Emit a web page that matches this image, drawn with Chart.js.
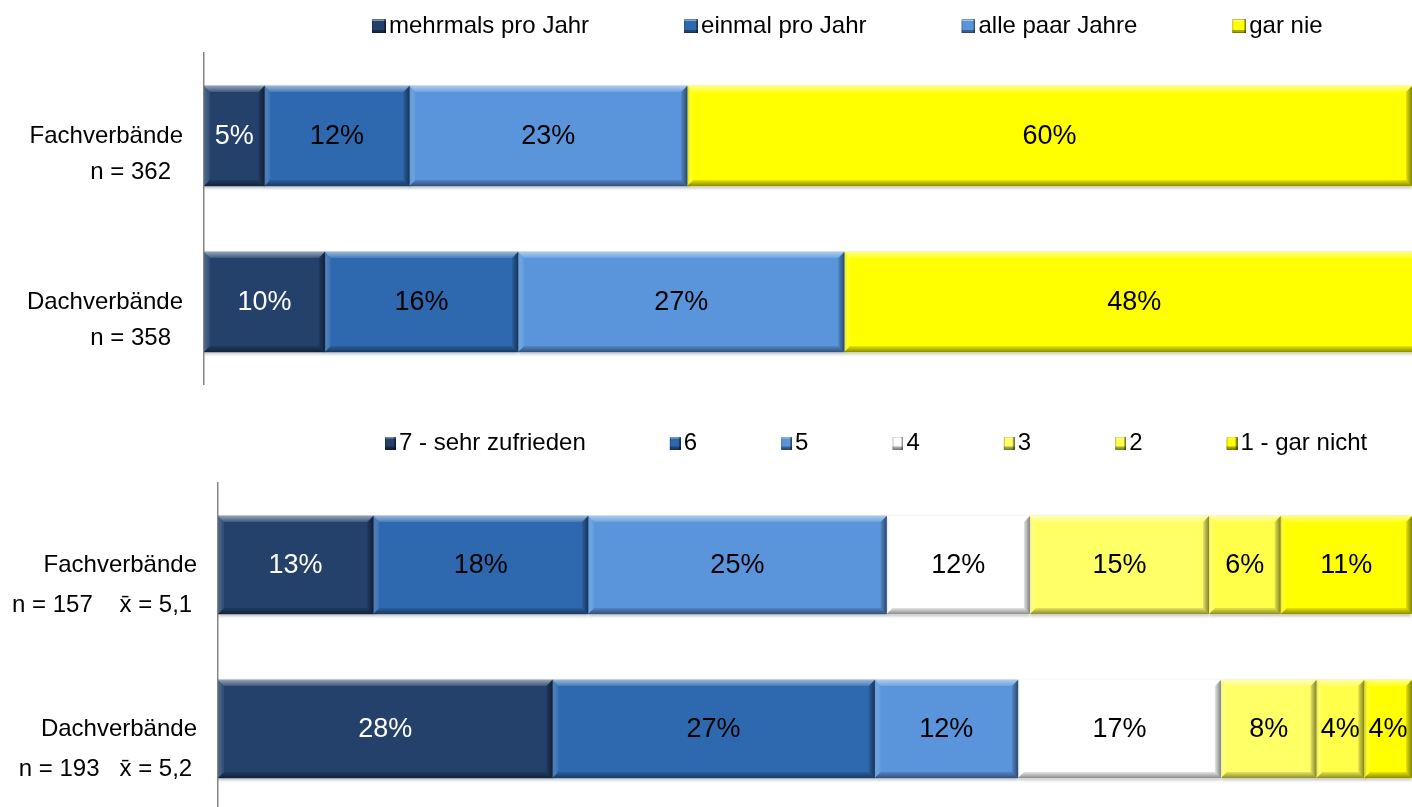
<!DOCTYPE html>
<html lang="de">
<head>
<meta charset="utf-8">
<title>Verbände – Kontakthäufigkeit und Zufriedenheit</title>
<script src="https://cdn.jsdelivr.net/npm/chart.js@4.4.1/dist/chart.umd.min.js"></script>
<style>
  html, body { margin: 0; padding: 0; background: #fff; overflow: hidden; }
  body { width: 1412px; height: 807px; position: relative; }
  .panel { position: absolute; left: 0; width: 1412px; }
  #freqPanel { top: 0; height: 385px; }
  #satPanel { top: 400px; height: 411px; }
  canvas { display: block; }
</style>
</head>
<body>
<div class="panel" id="freqPanel"><canvas id="freqChart" width="1412" height="385"></canvas></div>
<div class="panel" id="satPanel"><canvas id="satChart" width="1412" height="411"></canvas></div>
<script>
// ---- Kontakthäufigkeit (Anteile in %) ----
const freqGroups = ['Fachverbände', 'Dachverbände'];
const freqSampleSizes = ['n = 362', 'n = 358'];
const freqSeries = ['mehrmals pro Jahr', 'einmal pro Jahr', 'alle paar Jahre', 'gar nie'];
const freqMehrmals = [5, 10];
const freqEinmal = [12, 16];
const freqAllePaar = [23, 27];
const freqGarNie = [60, 48];

// ---- Zufriedenheit, Skala 1–7 (Anteile in %) ----
const satGroups = ['Fachverbände', 'Dachverbände'];
const satSampleSizes = ['n = 157', 'n = 193'];
const satMeans = ['5,1', '5,2'];
const satSeries = ['7 - sehr zufrieden', '6', '5', '4', '3', '2', '1 - gar nicht'];
const sat7 = [13, 28];
const sat6 = [18, 27];
const sat5 = [25, 12];
const sat4 = [12, 17];
const sat3 = [15, 8];
const sat2 = [6, 4];
const sat1 = [11, 4];

// ---- Farben ----
const freqColors = ['#23416B', '#2E69B0', '#5A95DB', '#FFFF00'];
const freqTextColors = ['#FFFFFF', '#000000', '#000000', '#000000'];
const satColors = ['#23416B', '#2E69B0', '#5A95DB', '#FFFFFF', '#FFFF66', '#FFFF4A', '#FFFF00'];
const satTextColors = ['#FFFFFF', '#000000', '#000000', '#000000', '#000000', '#000000', '#000000'];

Chart.defaults.font.family = "'Liberation Sans', Arial, Helvetica, sans-serif";
Chart.defaults.color = '#000';

// Small bevelled square used as legend symbol. The canvas is wider than the
// square so that the square sits right in front of the legend text.
function legendSwatch(color, slot, w, h, gap, halfFont) {
  const a = w + gap - halfFont;
  const iw = slot + 2 * w - 2 * a;
  const sx = slot + w - 2 * a;
  const c = document.createElement('canvas');
  c.width = iw; c.height = h;
  const g = c.getContext('2d');
  g.fillStyle = color;
  g.fillRect(sx, 0, w, h);
  g.fillStyle = 'rgba(255,255,255,0.45)';
  g.fillRect(sx, 0, w, 2);
  g.fillStyle = 'rgba(0,0,0,0.35)';
  g.fillRect(sx, h - 3, w, 3);
  g.fillRect(sx + w - 2, 0, 2, h);
  g.strokeStyle = 'rgba(0,0,0,0.25)';
  g.lineWidth = 1;
  g.strokeRect(sx + 0.5, 0.5, w - 1, h - 1);
  return c;
}

function legendItemsFor(names, colors, slot, w, h) {
  return function (chart) {
    return chart.data.datasets.map((ds, i) => ({
      text: names[i],
      fillStyle: colors[i],
      strokeStyle: colors[i],
      lineWidth: 0,
      hidden: false,
      fontColor: '#000',
      datasetIndex: i,
      pointStyle: legendSwatch(colors[i], slot, w, h, 3, 12)
    }));
  };
}

// Moves the horizontal start of the legend row.
const legendInset = {
  id: 'legendInset',
  afterLayout(chart, args, opts) {
    if (chart.legend && typeof opts.left === 'number') {
      chart.legend.left = opts.left;
    }
  }
};

function poly(ctx, pts, fill) {
  ctx.beginPath();
  ctx.moveTo(pts[0][0], pts[0][1]);
  for (let i = 1; i < pts.length; i++) ctx.lineTo(pts[i][0], pts[i][1]);
  ctx.closePath();
  ctx.fillStyle = fill;
  ctx.fill();
}

// Soft shadow under each segment plus a bevelled edge on top of it.
const bevel = {
  id: 'bevel',
  beforeDatasetDraw(chart) {
    const ctx = chart.ctx;
    ctx.save();
    ctx.shadowColor = 'rgba(0,0,0,0.28)';
    ctx.shadowBlur = 3;
    ctx.shadowOffsetX = 0;
    ctx.shadowOffsetY = 1.5;
  },
  afterDatasetDraw(chart, args, opts) {
    const { ctx, chartArea } = chart;
    ctx.shadowColor = 'rgba(0,0,0,0)';
    ctx.shadowBlur = 0;
    ctx.shadowOffsetY = 0;
    ctx.save();
    ctx.beginPath();
    ctx.rect(chartArea.left, chartArea.top, chartArea.width, chartArea.height);
    ctx.clip();
    const b = opts.size;
    args.meta.data.forEach(bar => {
      const { x, y, base, height } = bar.getProps(['x', 'y', 'base', 'height'], true);
      const x0 = Math.min(base, x), x1 = Math.max(base, x);
      const y0 = y - height / 2, y1 = y + height / 2;
      let gr = ctx.createLinearGradient(0, y0, 0, y0 + b);
      gr.addColorStop(0, 'rgba(255,255,255,0.50)');
      gr.addColorStop(1, 'rgba(255,255,255,0.12)');
      poly(ctx, [[x0, y0], [x1, y0], [x1 - b, y0 + b], [x0 + b, y0 + b]], gr);
      gr = ctx.createLinearGradient(x0, 0, x0 + b, 0);
      gr.addColorStop(0, 'rgba(255,255,255,0.22)');
      gr.addColorStop(1, 'rgba(255,255,255,0.05)');
      poly(ctx, [[x0, y0], [x0 + b, y0 + b], [x0 + b, y1 - b], [x0, y1]], gr);
      gr = ctx.createLinearGradient(0, y1 - b, 0, y1);
      gr.addColorStop(0, 'rgba(0,0,0,0.10)');
      gr.addColorStop(1, 'rgba(0,0,0,0.45)');
      poly(ctx, [[x0, y1], [x0 + b, y1 - b], [x1 - b, y1 - b], [x1, y1]], gr);
      gr = ctx.createLinearGradient(x1 - b, 0, x1, 0);
      gr.addColorStop(0, 'rgba(0,0,0,0.10)');
      gr.addColorStop(1, 'rgba(0,0,0,0.50)');
      poly(ctx, [[x1, y0], [x1, y1], [x1 - b, y1 - b], [x1 - b, y0 + b]], gr);
    });
    ctx.restore();
    ctx.restore();
  }
};

// Percentage written in the middle of every segment.
const segmentLabels = {
  id: 'segmentLabels',
  afterDatasetsDraw(chart, args, opts) {
    const ctx = chart.ctx;
    ctx.save();
    ctx.font = opts.size + "px 'Liberation Sans', Arial, sans-serif";
    ctx.textAlign = 'center';
    ctx.textBaseline = 'middle';
    chart.data.datasets.forEach((ds, di) => {
      const meta = chart.getDatasetMeta(di);
      if (meta.hidden) return;
      meta.data.forEach((bar, i) => {
        const { x, y, base } = bar.getProps(['x', 'y', 'base'], true);
        ctx.fillStyle = opts.colors[di];
        ctx.fillText(ds.data[i] + '%', (base + x) / 2, y + 1);
      });
    });
    ctx.restore();
  }
};

function buildChart(canvasId, cfg) {
  return new Chart(document.getElementById(canvasId), {
    type: 'bar',
    data: {
      labels: cfg.labels,
      datasets: cfg.values.map((vals, i) => ({
        label: cfg.names[i],
        data: vals,
        backgroundColor: cfg.colors[i],
        borderWidth: 0,
        barThickness: cfg.barThickness
      }))
    },
    plugins: [legendInset, bevel, segmentLabels],
    options: {
      indexAxis: 'y',
      responsive: false,
      animation: false,
      events: [],
      layout: { padding: { top: cfg.padTop, left: 0, right: 0, bottom: 0 } },
      scales: {
        x: {
          stacked: true,
          min: 0,
          max: 100,
          position: 'top',
          grid: { display: false },
          border: { display: false },
          ticks: { display: false },
          afterFit: s => { s.height = cfg.gapBelowLegend; }
        },
        y: {
          stacked: true,
          grid: { display: false, drawTicks: false },
          border: { display: true, color: '#858585', width: 1.5 },
          ticks: {
            color: '#000',
            padding: 21,
            font: { size: 24, lineHeight: cfg.labelLineHeight }
          },
          afterFit: s => {
            s.width = cfg.axisWidth;
            s.paddingTop = 0;
            s.paddingBottom = 0;
          }
        }
      },
      plugins: {
        tooltip: { enabled: false },
        legend: {
          display: true,
          position: 'top',
          align: 'start',
          onClick: null,
          labels: {
            usePointStyle: true,
            pointStyleWidth: cfg.legendSlot,
            boxHeight: cfg.swatchH,
            padding: 10,
            color: '#000',
            font: { size: 24 },
            generateLabels: legendItemsFor(cfg.names, cfg.colors, cfg.legendSlot, cfg.swatchW, cfg.swatchH)
          }
        },
        legendInset: { left: cfg.legendLeft },
        bevel: { size: 6 },
        segmentLabels: { size: 27, colors: cfg.textColors }
      }
    }
  });
}

buildChart('freqChart', {
  labels: freqGroups.map((g, i) => ['', g, freqSampleSizes[i] + '\u2002']),
  names: freqSeries,
  values: [freqMehrmals, freqEinmal, freqAllePaar, freqGarNie],
  colors: freqColors,
  textColors: freqTextColors,
  barThickness: 100,
  padTop: 4,
  gapBelowLegend: 5,
  labelLineHeight: 1.5,
  axisWidth: 204,
  legendSlot: 90,
  swatchW: 14,
  swatchH: 14,
  legendLeft: 277
});

buildChart('satChart', {
  labels: satGroups.map((g, i) => [
    '',
    g,
    satSampleSizes[i] + (i === 0 ? '    ' : '   ') + 'x\u0304 = ' + satMeans[i] + '\u2009'
  ]),
  names: satSeries,
  values: [sat7, sat6, sat5, sat4, sat3, sat2, sat1],
  colors: satColors,
  textColors: satTextColors,
  barThickness: 98,
  padTop: 21,
  gapBelowLegend: 18,
  labelLineHeight: 1.667,
  axisWidth: 218,
  legendSlot: 76,
  swatchW: 11,
  swatchH: 13,
  legendLeft: 301
});
</script>
</body>
</html>
